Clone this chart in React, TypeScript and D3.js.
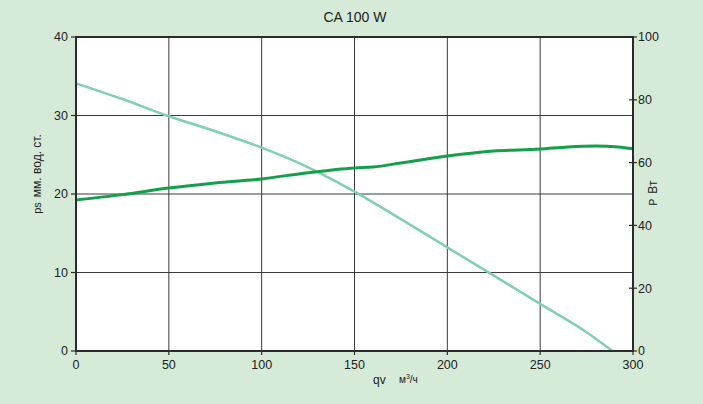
import React from "react";
import * as d3 from "d3";

const flowTicks = [0, 50, 100, 150, 200, 250, 300];
const pressureTicks = [0, 10, 20, 30, 40];
const powerTicks = [0, 20, 40, 60, 80, 100];

const pressureQ = [0, 25, 50, 75, 100, 125, 150, 175, 200, 225, 250, 275, 289];
const pressureV = [34.1, 32.1, 29.9, 28.0, 25.9, 23.4, 20.3, 16.8, 13.2, 9.6, 6.0, 2.4, 0];

const powerQ = [0, 25, 50, 75, 100, 125, 150, 160, 175, 200, 225, 250, 265, 280, 292, 300];
const powerV = [48.1, 49.8, 51.9, 53.5, 54.8, 56.8, 58.3, 58.6, 59.9, 62.1, 63.7, 64.3, 65.0, 65.3, 65.0, 64.4];

const W = 703;
const H = 404;
const M = { left: 76, right: 633, top: 37, bottom: 351 };

export default function App() {
  const x = d3.scaleLinear().domain([0, 300]).range([M.left, M.right]);
  const yL = d3.scaleLinear().domain([0, 40]).range([M.bottom, M.top]);
  const yR = d3.scaleLinear().domain([0, 100]).range([M.bottom, M.top]);

  const pLine = d3
    .line<number>()
    .x((_, i) => x(pressureQ[i]))
    .y((d) => yL(d))
    .curve(d3.curveMonotoneX)(pressureV) as string;
  const wLine = d3
    .line<number>()
    .x((_, i) => x(powerQ[i]))
    .y((d) => yR(d))
    .curve(d3.curveMonotoneX)(powerV) as string;

  const font = "'Liberation Sans', Arial, Helvetica, sans-serif";
  const axisColor = "#2b2b2b";

  return (
    <svg
      width={W}
      height={H}
      style={{ position: "absolute", left: 0, top: 0 }}
      fontFamily={font}
    >
      <rect x={0} y={0} width={W} height={H} fill="#d5ebd7" />
      <rect
        x={M.left}
        y={M.top}
        width={M.right - M.left}
        height={M.bottom - M.top}
        fill="#ffffff"
      />
      {flowTicks.slice(1, -1).map((t) => (
        <line key={"vx" + t} x1={x(t)} x2={x(t)} y1={M.top} y2={M.bottom} stroke="#3a3a3a" strokeWidth={1} />
      ))}
      {pressureTicks.slice(1, -1).map((t) => (
        <line key={"hy" + t} x1={M.left} x2={M.right} y1={yL(t)} y2={yL(t)} stroke="#3a3a3a" strokeWidth={1} />
      ))}
      <path d={pLine} fill="none" stroke="#7fd0b2" strokeWidth={2.5} />
      <path d={wLine} fill="none" stroke="#12a04c" strokeWidth={3} />
      <rect
        x={M.left}
        y={M.top}
        width={M.right - M.left}
        height={M.bottom - M.top}
        fill="none"
        stroke={axisColor}
        strokeWidth={2}
      />
      {pressureTicks.map((t) => (
        <g key={"l" + t}>
          <line x1={M.left - 5} x2={M.left} y1={yL(t)} y2={yL(t)} stroke={axisColor} strokeWidth={1.2} />
          <text x={M.left - 8} y={yL(t)} dy="0.35em" textAnchor="end" fontSize={12.5} fill="#222">
            {t}
          </text>
        </g>
      ))}
      {powerTicks.map((t) => (
        <g key={"r" + t}>
          <line x1={M.right - 4} x2={M.right + 4} y1={yR(t)} y2={yR(t)} stroke={axisColor} strokeWidth={1.2} />
          <text x={M.right + 5} y={yR(t)} dy="0.35em" textAnchor="start" fontSize={12.5} fill="#222">
            {t}
          </text>
        </g>
      ))}
      {flowTicks.map((t) => (
        <g key={"b" + t}>
          <line x1={x(t)} x2={x(t)} y1={M.bottom} y2={M.bottom + 4} stroke={axisColor} strokeWidth={1.2} />
          <text x={x(t)} y={M.bottom + 18} textAnchor="middle" fontSize={12.5} fill="#222">
            {t}
          </text>
        </g>
      ))}
      <text x={355} y={22} textAnchor="middle" fontSize={14} fill="#222">
        CA 100 W
      </text>
      <text
        transform={`translate(41,174) rotate(-90)`}
        textAnchor="middle"
        fontSize={12}
        fill="#222"
      >
        <tspan fontSize={11}>ps</tspan>
        <tspan dx={5}>мм. вод. ст.</tspan>
      </text>
      <text
        transform={`translate(657,193) rotate(-90)`}
        textAnchor="middle"
        fontSize={12}
        fill="#222"
      >
        <tspan fontSize={10}>P</tspan>
        <tspan dx={5}>Вт</tspan>
      </text>
      <text x={373} y={384} fontSize={12} fill="#222">
        qv
      </text>
      <text x={399} y={383} fontSize={10} fill="#222">
        м<tspan dy={-4} fontSize={7}>3</tspan>
        <tspan dy={4}>/ч</tspan>
      </text>
    </svg>
  );
}
